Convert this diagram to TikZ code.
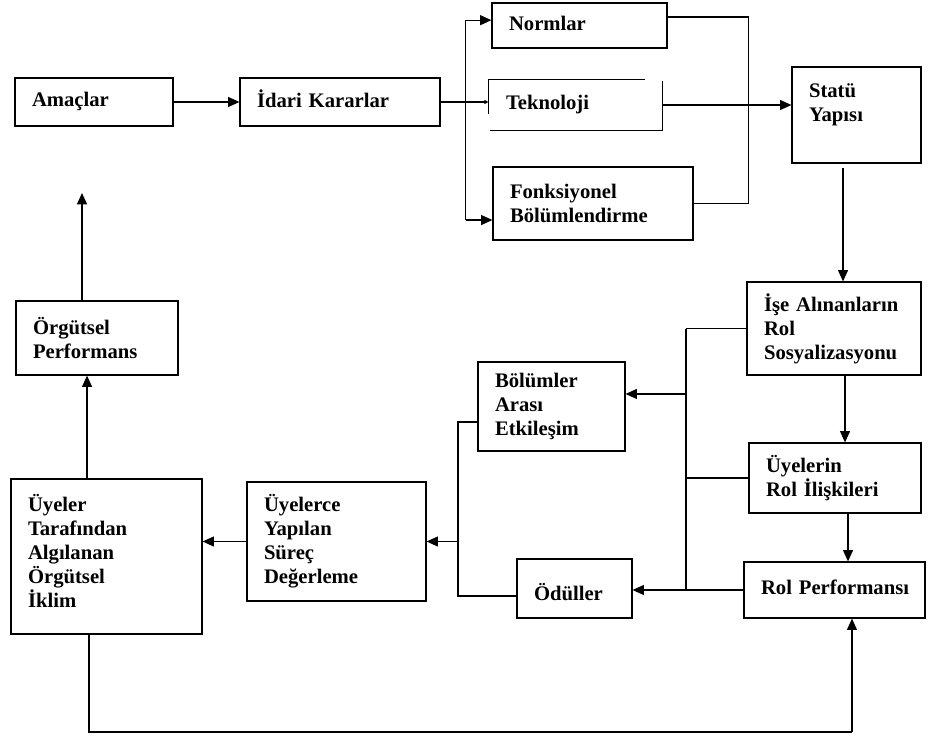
\documentclass[tikz,border=0pt]{standalone}
\usepackage{fontspec}
\setmainfont{Liberation Serif}
\usetikzlibrary{arrows.meta}
\begin{document}
\begin{tikzpicture}[x=0.75pt,y=-0.75pt,
  box/.style={draw, line width=0.9pt, rectangle, align=left, inner xsep=12.75pt, inner ysep=0pt,
    font=\fontsize{15.5}{18}\selectfont\bfseries},
  arr/.style={line width=0.9pt, -{Triangle[length=8.5pt,width=7.5pt]}},
  tinyarr/.style={line width=0.9pt, -{Triangle[length=3pt,width=3pt]}},
  ln/.style={line width=0.9pt}]
\useasboundingbox (0,0) rectangle (930,738);

% boxes
\node[box, minimum width=118.5pt, minimum height=36pt, text width=93pt] (amac) at (94,102) {\strut Amaçlar};
\node[box, minimum width=150pt, minimum height=36pt, text width=124.5pt] (idari) at (340,102) {\strut\mbox{İdari Kararlar}};
\node[box, minimum width=131.25pt, minimum height=33.75pt, text width=105.75pt] (norm) at (579.5,25.5) {\strut Normlar};
\node[box, draw=none, minimum width=129.75pt, minimum height=37.5pt, text width=104.25pt] (tek) at (575.5,105) {\strut Teknoloji};
\node[box, minimum width=150pt, minimum height=54.75pt, text width=124.5pt] (fonk) at (593,203.5) {Fonksiyonel\\Bölümlendirme};
\node[box, minimum width=96.75pt, minimum height=72pt, text width=71.25pt] (statu) at (856.5,115) {Statü\\Yapısı\\\mbox{}};
\node[box, minimum width=130.5pt, minimum height=69.75pt, text width=105pt] (ise) at (834,328.5) {\mbox{İşe Alınanların}\\Rol\\Sosyalizasyonu};
\node[box, minimum width=129pt, minimum height=52.5pt, text width=103.5pt] (uyelerin) at (835,478) {Üyelerin\\\mbox{Rol İlişkileri}};
\node[box, minimum width=135.75pt, minimum height=42pt, text width=110.25pt] (rol) at (834.5,590) {\strut\mbox{Rol Performansı}};
\node[box, minimum width=110.25pt, minimum height=66.75pt, text width=84.75pt] (bolum) at (551.5,406.5) {Bölümler\\Arası\\Etkileşim};
\node[box, minimum width=86.25pt, minimum height=44.25pt, text width=60.75pt] (odul) at (574.5,588.5) {\mbox{}\\Ödüller};
\node[box, minimum width=134.25pt, minimum height=89.25pt, text width=108.75pt] (uyelerce) at (336.5,541.5) {Üyelerce\\Yapılan\\Süreç\\Değerleme};
\node[box, minimum width=143.25pt, minimum height=116.25pt, text width=117.75pt] (uyeler) at (106.5,556.5) {Üyeler\\Tarafından\\Algılanan\\Örgütsel\\İklim\\[-9pt]\mbox{}};
\node[box, minimum width=121.5pt, minimum height=55.5pt, text width=96pt] (orgut) at (97,338) {Örgütsel\\Performans};

% open frame of Teknoloji
\draw[ln] (tek.north west) -- ([xshift=-13.5pt]tek.north east);
\draw[ln] (tek.north west) -- ([yshift=-26pt]tek.north west);
\draw[ln] ([yshift=-1.5pt]tek.north east) -- (tek.south east) -- ([xshift=1.5pt]tek.south west);

% connectors
\draw[arr] (amac) -- (idari);
\coordinate (br) at ([xshift=18.75pt]idari.east);
\draw[ln] (idari.east) -- (br);
\draw[ln] (br) -- ([yshift=4pt]br |- norm.west);
\draw[arr] ([yshift=4pt]br |- norm.west) -- ([yshift=4pt]norm.west);
\draw[ln] (br) -- ([yshift=-12.4pt]br |- fonk.west);
\draw[arr] ([yshift=-12.4pt]br |- fonk.west) -- ([yshift=-12.4pt]fonk.west);
\draw[tinyarr] (br) -- (br -| tek.west);

\draw[ln] ([yshift=6.4pt]norm.east) -- ++(81,0) |- (fonk.east);
\draw[arr] (tek.east) -- (tek.east -| statu.west);

\coordinate (s1) at (843,168);
\draw[arr] (s1) -- (s1 |- ise.north);
\draw[arr] ([xshift=8.25pt]ise.south) -- ([xshift=8.25pt]ise.south |- uyelerin.north);
\draw[arr] ([xshift=9.75pt]uyelerin.south) -- ([xshift=9.75pt]uyelerin.south |- rol.north);

\coordinate (bus) at (686,0);
\draw[ln] (ise.west) -- (ise.west -| bus);
\draw[ln] (uyelerin.west) -- (uyelerin.west -| bus);
\draw[ln] (ise.west -| bus) -- (rol.west -| bus);
\draw[arr] (rol.west) -- (rol.west -| odul.east);
\draw[arr] ([yshift=9.4pt]bolum.east -| bus) -- ([yshift=9.4pt]bolum.east);

\coordinate (lb) at (458,0);
\draw[ln] ([yshift=-11.6pt]bolum.west) -| ([yshift=-5.6pt]odul.west -| lb) -- ([yshift=-5.6pt]odul.west);
\draw[arr] (uyelerce.east -| lb) -- (uyelerce.east);
\draw[arr] (uyelerce.west) -- (uyelerce.west -| uyeler.east);
\draw[arr] ([xshift=-14.6pt]uyeler.north) -- ([xshift=-14.6pt]uyeler.north |- orgut.south);
\coordinate (top) at (82,193);
\draw[arr] ([xshift=-11.25pt]orgut.north) -- (top);

\coordinate (bot) at (0,732);
\draw[ln] ([xshift=-13.1pt]uyeler.south) |- ([xshift=13.1pt]rol.south |- bot);
\draw[arr] ([xshift=13.1pt]rol.south |- bot) -- ([xshift=13.1pt]rol.south);
\end{tikzpicture}
\end{document}
